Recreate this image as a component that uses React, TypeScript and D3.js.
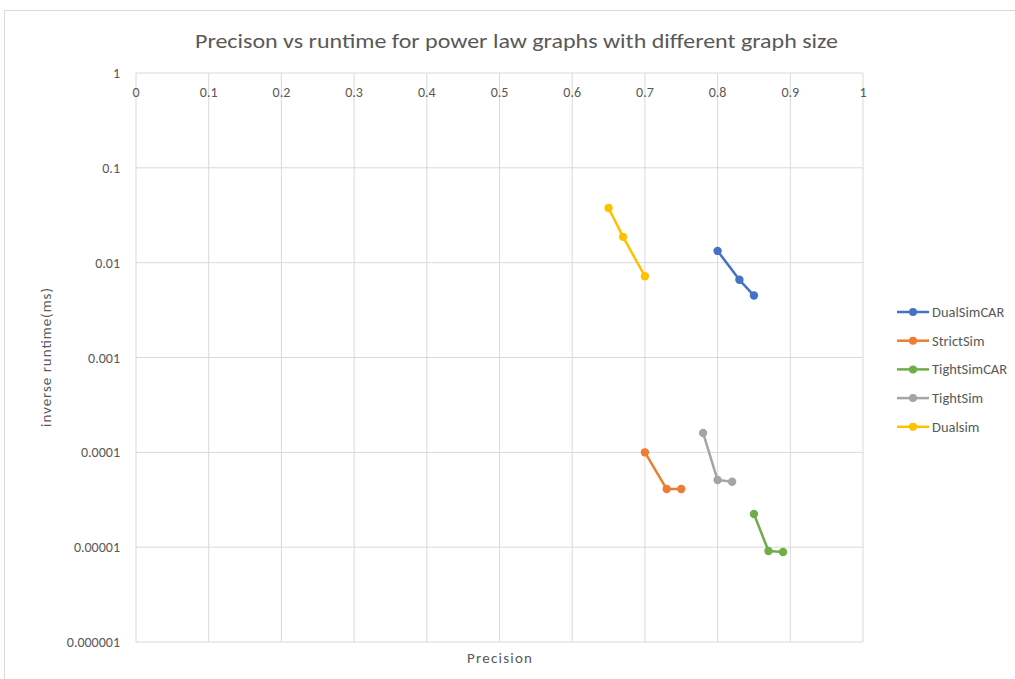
import React, { useEffect, useRef } from "react";
import * as d3 from "d3";

// Precision (x) and inverse runtime (y, log scale) per method
const dualSimCarPrecision = [0.8, 0.83, 0.85];
const dualSimCarInvRuntime = [0.0133, 0.0066, 0.0045];
const strictSimPrecision = [0.7, 0.73, 0.75];
const strictSimInvRuntime = [0.0001, 0.000041, 0.000041];
const tightSimCarPrecision = [0.85, 0.87, 0.89];
const tightSimCarInvRuntime = [0.0000224, 0.0000091, 0.0000089];
const tightSimPrecision = [0.78, 0.8, 0.82];
const tightSimInvRuntime = [0.00016, 0.000051, 0.000049];
const dualsimPrecision = [0.65, 0.67, 0.7];
const dualsimInvRuntime = [0.0377, 0.0187, 0.0072];

const seriesNames = ["DualSimCAR", "StrictSim", "TightSimCAR", "TightSim", "Dualsim"];
const seriesColors = ["#4472c4", "#ed7d31", "#70ad47", "#a5a5a5", "#ffc000"];

const xTicks = [0, 0.1, 0.2, 0.3, 0.4, 0.5, 0.6, 0.7, 0.8, 0.9, 1];
const yTicks = [1, 0.1, 0.01, 0.001, 0.0001, 0.00001, 0.000001];
const yTickLabels = ["1", "0.1", "0.01", "0.001", "0.0001", "0.00001", "0.000001"];

const title = "Precison vs runtime for power law graphs with different graph size";
const xTitle = "Precision";
const yTitle = "inverse runtime(ms)";

const FONT = "Carlito, 'Open Sans', sans-serif";

export default function App() {
  const ref = useRef<SVGSVGElement | null>(null);

  useEffect(() => {
    const svg = d3.select(ref.current);
    svg.selectAll("*").remove();

    const left = 136, right = 863, top = 73, bottom = 642;
    const x = d3.scaleLinear().domain([0, 1]).range([left, right]);
    const y = d3.scaleLog().domain([0.000001, 1]).range([bottom, top]);

    svg.append("rect").attr("x", 0).attr("y", 0).attr("width", 1015).attr("height", 679).attr("fill", "#fff");
    svg.append("rect").attr("x", 4.5).attr("y", 10.5).attr("width", 1030).attr("height", 700)
      .attr("fill", "none").attr("stroke", "#d9d9d9");

    // grid
    const g = svg.append("g");
    xTicks.forEach((t) => {
      g.append("line").attr("x1", x(t)).attr("x2", x(t)).attr("y1", top).attr("y2", bottom)
        .attr("stroke", "#d9d9d9").attr("stroke-width", 1);
    });
    yTicks.forEach((t) => {
      g.append("line").attr("x1", left).attr("x2", right).attr("y1", y(t)).attr("y2", y(t))
        .attr("stroke", "#d9d9d9").attr("stroke-width", 1);
    });

    // x tick labels beneath the top axis line
    xTicks.forEach((t) => {
      svg.append("text").attr("x", x(t)).attr("y", top + 24).attr("text-anchor", "middle")
        .attr("font-family", FONT).attr("font-size", 14).attr("fill", "#595959").text(String(t));
    });
    yTicks.forEach((t, i) => {
      svg.append("text").attr("x", left - 16).attr("y", y(t) + 5).attr("text-anchor", "end")
        .attr("font-family", FONT).attr("font-size", 14).attr("fill", "#595959").text(yTickLabels[i]);
    });

    svg.append("text").attr("x", 516.5).attr("y", 48).attr("text-anchor", "middle")
      .attr("font-family", FONT).attr("font-size", 21).attr("fill", "#595959")
      .attr("textLength", 643).attr("lengthAdjust", "spacingAndGlyphs").text(title);
    svg.append("text").attr("x", 499.5).attr("y", 663).attr("text-anchor", "middle")
      .attr("font-family", FONT).attr("font-size", 15).attr("fill", "#595959")
      .attr("textLength", 65).attr("lengthAdjust", "spacing").text(xTitle);
    svg.append("text").attr("transform", `translate(51,357.5) rotate(-90)`).attr("text-anchor", "middle")
      .attr("font-family", FONT).attr("font-size", 15).attr("fill", "#595959")
      .attr("textLength", 139).attr("lengthAdjust", "spacing").text(yTitle);

    const series = [
      [dualSimCarPrecision, dualSimCarInvRuntime],
      [strictSimPrecision, strictSimInvRuntime],
      [tightSimCarPrecision, tightSimCarInvRuntime],
      [tightSimPrecision, tightSimInvRuntime],
      [dualsimPrecision, dualsimInvRuntime],
    ];
    const line = d3.line<[number, number]>().x((d) => x(d[0])).y((d) => y(d[1]));
    series.forEach(([xs, ys], i) => {
      const pts: [number, number][] = xs.map((v, j) => [v, ys[j]]);
      svg.append("path").attr("d", line(pts)).attr("fill", "none")
        .attr("stroke", seriesColors[i]).attr("stroke-width", 2.5).attr("stroke-linejoin", "round");
      pts.forEach((p) => {
        svg.append("circle").attr("cx", x(p[0])).attr("cy", y(p[1])).attr("r", 4.2).attr("fill", seriesColors[i]);
      });
    });

    // legend
    seriesNames.forEach((name, i) => {
      const ly = 312 + i * 28.7;
      svg.append("line").attr("x1", 897).attr("x2", 929).attr("y1", ly).attr("y2", ly)
        .attr("stroke", seriesColors[i]).attr("stroke-width", 2.5);
      svg.append("circle").attr("cx", 913).attr("cy", ly).attr("r", 4).attr("fill", seriesColors[i]);
      svg.append("text").attr("x", 932).attr("y", ly + 5).attr("font-family", FONT)
        .attr("font-size", 14.5).attr("fill", "#595959").text(name);
    });
  }, []);

  return (
    <svg ref={ref} width={1015} height={679}
      style={{ position: "absolute", left: 0, top: 0, display: "block" }} />
  );
}
